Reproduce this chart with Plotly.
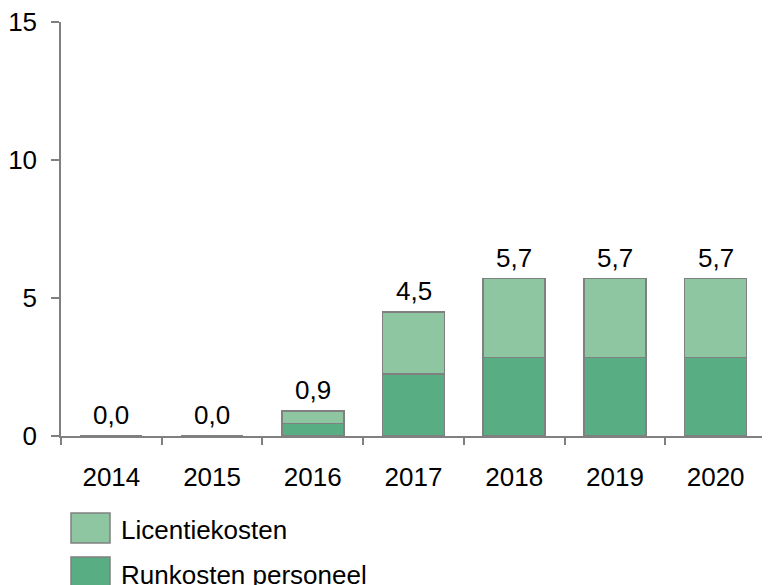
import plotly.graph_objects as go

years = ["2014", "2015", "2016", "2017", "2018", "2019", "2020"]
runkosten = [0.0, 0.0, 0.45, 2.25, 2.85, 2.85, 2.85]
licentie = [0.0, 0.0, 0.45, 2.25, 2.85, 2.85, 2.85]
totals = [r + l for r, l in zip(runkosten, licentie)]
total_labels = [f"{t:.1f}".replace(".", ",") for t in totals]
y_ticks = [0, 5, 10, 15]
legend_names = ["Licentiekosten", "Runkosten personeel"]

dark = "#59AD82"
light = "#8DC6A0"
edge = "#808080"
font = "Liberation Sans, Arial, sans-serif"
FS = 26

fig = go.Figure()
fig.add_trace(go.Bar(x=years, y=runkosten, name=legend_names[1],
                     marker=dict(color=dark, line=dict(color=edge, width=1.5)),
                     showlegend=False))
fig.add_trace(go.Bar(x=years, y=licentie, name=legend_names[0],
                     marker=dict(color=light, line=dict(color=edge, width=1.5)),
                     showlegend=False))

for i, (t, lab) in enumerate(zip(totals, total_labels)):
    fig.add_annotation(x=i, y=t, text=lab, showarrow=False, yanchor="middle",
                       yshift=21, font=dict(family=font, size=FS, color="black"))

# page body has an 8px default margin; compensate
OFF = 8
L, W, T, H = 61.0, 705.0, 22.0, 414.0
def px_x(p):
    return (p - L) / W
def px_y(p):
    return (T + H - p) / H

legend_cols = [light, dark]
for i, (name, col) in enumerate(zip(legend_names, legend_cols)):
    top = 513 + i * 44
    bot = top + 30
    fig.add_shape(type="rect", xref="paper", yref="paper",
                  x0=px_x(71), x1=px_x(110), y0=px_y(bot), y1=px_y(top),
                  line=dict(color=edge, width=1.5), fillcolor=col)
    fig.add_annotation(xref="paper", yref="paper", x=px_x(119),
                       y=px_y(530 + i * 45), xanchor="left", yanchor="middle",
                       text=name, showarrow=False,
                       font=dict(family=font, size=FS, color="black"))

fig.update_layout(
    barmode="stack", bargap=0.385,
    width=770 - OFF, height=585 - OFF,
    margin=dict(l=L - OFF, r=4, t=T - OFF, b=149, autoexpand=False),
    plot_bgcolor="white", paper_bgcolor="white",
    font=dict(family=font, size=FS, color="black"),
)
fig.update_xaxes(type="category", range=[-0.5, len(years) - 0.5], automargin=False,
                 showline=True, linecolor=edge, linewidth=1.5,
                 ticks="outside", tickson="boundaries", ticklen=7, tickwidth=1.5,
                 tickcolor=edge, showgrid=False, tickfont=dict(size=FS), tickangle=0,
                 ticklabelstandoff=17, ticklabeloverflow="allow")
fig.update_yaxes(range=[0, 15], tickvals=y_ticks, automargin=False, showline=True,
                 linecolor=edge, linewidth=1.5, ticks="outside", ticklen=8,
                 tickwidth=1.5, tickcolor=edge, showgrid=False, zeroline=False,
                 tickfont=dict(size=26), ticklabelstandoff=9, ticklabeloverflow="allow")

fig.write_html("out.html")
